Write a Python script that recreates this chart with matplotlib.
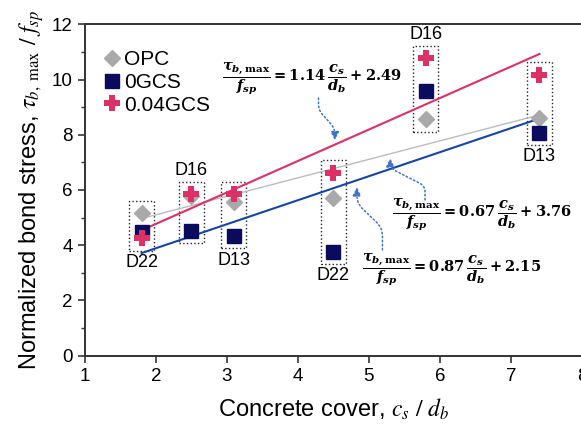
import matplotlib
matplotlib.use("Agg")
import matplotlib.pyplot as plt
from matplotlib.patches import Rectangle
import numpy as np

plt.rcParams['font.family'] = 'Liberation Sans'
plt.rcParams['mathtext.fontset'] = 'custom'
plt.rcParams['mathtext.it'] = 'DejaVu Serif:bold:italic'
plt.rcParams['mathtext.rm'] = 'DejaVu Serif:bold'
plt.rcParams['mathtext.bf'] = 'DejaVu Serif:bold'

# cover-to-diameter ratio of each specimen and its bar size
cover = [1.8, 2.5, 3.1, 4.5, 5.8, 7.4]
bar_size = ['D22', 'D16', 'D13', 'D22', 'D16', 'D13']
label_above = [False, True, False, False, True, False]

# normalized bond stress per mix
opc = [5.16, 5.78, 5.58, 5.72, 8.56, 8.60]
gcs0 = [4.49, 4.53, 4.34, 3.77, 9.60, 8.08]
gcs004 = [4.25, 5.85, 5.85, 6.62, 10.77, 10.17]

# linear fits (slope, intercept)
fit_opc = (0.67, 3.76)
fit_gcs0 = (0.87, 2.15)
fit_gcs004 = (1.14, 2.49)

c_gray = '#a9a9a9'
c_navy = '#0b0b5e'
c_red = '#dc3067'
c_blue = '#1546a6'
c_arrow = '#3d72c8'

fig = plt.figure(figsize=(5.81, 4.25), dpi=100)
ax = fig.add_axes([84.7 / 581, 1 - 355.7 / 425, 497.4 / 581, 331.4 / 425])

xs = np.array([cover[0], cover[-1]])
ax.plot(xs, fit_opc[0] * xs + fit_opc[1], color='#bcbcbc', lw=1.0, zorder=2)
ax.plot(xs, fit_gcs0[0] * xs + fit_gcs0[1], color=c_blue, lw=1.5, zorder=2)
ax.plot(xs, fit_gcs004[0] * xs + fit_gcs004[1], color=c_red, lw=1.5, zorder=2)

ax.plot(cover, opc, 'D', color=c_gray, ms=8.5, ls='none', label='OPC', zorder=3)
ax.plot(cover, gcs0, 's', color=c_navy, ms=9.5, ls='none', label='0GCS', zorder=4)
ax.plot(cover, gcs004, 'P', color=c_red, ms=11, mew=0, ls='none', label='0.04GCS', zorder=5)

# dotted boxes grouping each specimen
for x, a, b, c, lab, up in zip(cover, opc, gcs0, gcs004, bar_size, label_above):
    lo = min(a, b, c) - 0.45
    hi = max(a, b, c) + 0.45
    ax.add_patch(Rectangle((x - 0.175, lo), 0.35, hi - lo, fill=False,
                           ls=':', lw=1.0, ec='#222222', zorder=1))
    if up:
        ax.text(x, hi + 0.1, lab, ha='center', va='bottom', fontsize=13)
    else:
        ax.text(x, lo - 0.12, lab, ha='center', va='top', fontsize=13)

eq = r'$\dfrac{\tau_{b,\mathrm{max}}}{f_{sp}} = %.2f\,\dfrac{c_s}{d_b} + %.2f$'
ax.text(2.93, 10.03, eq % fit_gcs004, fontsize=10.5, ha='left', va='center')
ax.text(5.32, 5.10, eq % fit_opc, fontsize=10.5, ha='left', va='center')
ax.text(4.90, 3.10, eq % fit_gcs0, fontsize=10.5, ha='left', va='center')

arrow = dict(arrowstyle='-|>,head_length=0.5,head_width=0.25', ls=':', lw=1.1,
             color=c_arrow, shrinkA=0, shrinkB=0)
ax.annotate('', xy=(4.52, 7.80), xytext=(4.29, 9.33),
            arrowprops=dict(arrow, connectionstyle='arc,angleA=-90,angleB=90,armA=12,armB=12,rad=6'))
ax.annotate('', xy=(5.30, 7.15), xytext=(5.79, 5.64),
            arrowprops=dict(arrow, connectionstyle='arc,angleA=90,angleB=-90,armA=14,armB=10,rad=6'))
ax.annotate('', xy=(4.83, 6.10), xytext=(5.19, 3.83),
            arrowprops=dict(arrow, connectionstyle='arc,angleA=90,angleB=-90,armA=22,armB=16,rad=8'))

ax.set_xlim(1, 8)
ax.set_ylim(0, 12)
ax.set_xticks(range(1, 9))
ax.set_yticks(range(0, 13, 2))
ax.set_yticks(range(1, 12, 2), minor=True)
ax.tick_params(direction='out', labelsize=13.5, length=5, width=1.2, color='#333333')
ax.tick_params(which='minor', direction='out', length=3, width=1.0, color='#333333')
for side in ['left', 'bottom', 'top']:
    ax.spines[side].set_linewidth(1.4)
    ax.spines[side].set_color('#333333')
ax.spines['right'].set_visible(False)

ax.set_xlabel(r'Concrete cover, $c_s\ /\ d_b$', fontsize=17, math_fontfamily='stix', labelpad=9)
ax.set_ylabel(r'Normalized bond stress, $\tau_{b,\ \mathrm{max}}\ /\ f_{sp}$', fontsize=17,
              math_fontfamily='stix', labelpad=4)

ax.legend(loc='upper left', bbox_to_anchor=(0.008, 0.96), frameon=False, fontsize=15,
          handletextpad=0.1, handlelength=1.0, labelspacing=0.18, borderaxespad=0.2)

fig.savefig('out.png', dpi=100)
